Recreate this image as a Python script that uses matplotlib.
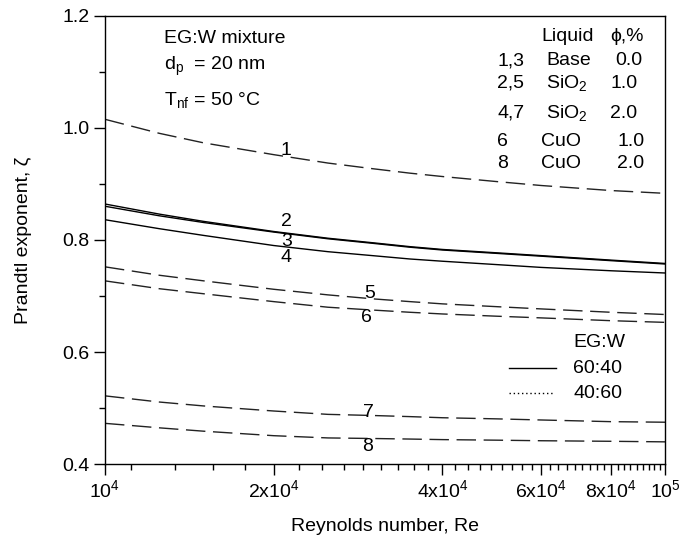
import numpy as np
import matplotlib
matplotlib.use('Agg')
import matplotlib.pyplot as plt
from matplotlib.ticker import FixedLocator, NullFormatter

plt.rcParams['font.family'] = ['Liberation Sans', 'DejaVu Sans']
plt.rcParams['mathtext.default'] = 'regular'

# Reynolds number sample points
re = [1e4, 1.25e4, 1.5e4, 2e4, 2.5e4, 3e4, 3.5e4, 4e4, 5e4, 6e4, 8e4, 1e5]

# Prandtl exponent
zeta_1 = [1.015, 0.990, 0.973, 0.952, 0.937, 0.927, 0.919, 0.913, 0.904, 0.897, 0.888, 0.883]
zeta_2 = [0.864, 0.846, 0.833, 0.815, 0.803, 0.795, 0.788, 0.783, 0.777, 0.772, 0.764, 0.758]
zeta_3 = [0.860, 0.843, 0.831, 0.814, 0.802, 0.794, 0.787, 0.782, 0.776, 0.771, 0.763, 0.757]
zeta_4 = [0.836, 0.820, 0.808, 0.790, 0.779, 0.772, 0.766, 0.762, 0.756, 0.751, 0.745, 0.741]
zeta_5 = [0.752, 0.737, 0.727, 0.712, 0.702, 0.695, 0.690, 0.686, 0.681, 0.677, 0.671, 0.667]
zeta_6 = [0.727, 0.713, 0.704, 0.690, 0.680, 0.675, 0.671, 0.668, 0.664, 0.661, 0.656, 0.653]
zeta_7 = [0.522, 0.511, 0.504, 0.495, 0.489, 0.487, 0.485, 0.483, 0.481, 0.479, 0.476, 0.475]
zeta_8 = [0.473, 0.465, 0.459, 0.451, 0.447, 0.446, 0.445, 0.444, 0.443, 0.442, 0.441, 0.440]

curves = [zeta_1, zeta_2, zeta_3, zeta_4, zeta_5, zeta_6, zeta_7, zeta_8]
dashed = [True, False, False, False, True, True, True, True]

# curve number labels (Re, zeta)
lab_names = ['1', '2', '3', '4', '5', '6', '7', '8']
lab_re = [2.1e4, 2.11e4, 2.11e4, 2.1e4, 2.97e4, 2.93e4, 2.95e4, 2.94e4]
lab_zeta = [0.960, 0.832, 0.798, 0.768, 0.705, 0.661, 0.493, 0.431]

xticks = [1e4, 2e4, 4e4, 6e4, 8e4, 1e5]
xtick_labels = ['$10^4$', '$2x10^4$', '$4x10^4$', '$6x10^4$', '$8x10^4$', '$10^5$']

FS = 14

fig = plt.figure(figsize=(6.8, 5.39), dpi=100)
ax = fig.add_axes([0.1544, 0.1386, 0.824, 0.8326])

for z, d in zip(curves, dashed):
    if d:
        ax.plot(re, z, color='#222222', lw=1.0, ls=(0, (14, 5.5)))
    else:
        ax.plot(re, z, color='black', lw=1.0)

for n, xr, yz in zip(lab_names, lab_re, lab_zeta):
    ax.text(xr, yz, n, fontsize=FS, ha='center', va='center')

ax.set_xscale('log')
ax.set_xlim(1e4, 1e5)
ax.set_ylim(0.4, 1.2)

ax.xaxis.set_major_locator(FixedLocator(xticks))
ax.set_xticklabels(xtick_labels)
minor = [k * 1e5 / 45 for k in range(5, 45) if k % 9 != 0]
ax.xaxis.set_minor_locator(FixedLocator(minor))
ax.xaxis.set_minor_formatter(NullFormatter())

ax.set_yticks([0.4, 0.6, 0.8, 1.0, 1.2])
ax.set_yticklabels(['0.4', '0.6', '0.8', '1.0', '1.2'])
ax.set_yticks([0.5, 0.7, 0.9, 1.1], minor=True)

ax.tick_params(which='major', direction='out', length=8, width=1, labelsize=FS, pad=3)
ax.tick_params(which='minor', direction='out', length=4, width=1)
for s in ax.spines.values():
    s.set_linewidth(1.0)

ax.set_xlabel('Reynolds number, Re', fontsize=FS, labelpad=12)
ax.set_ylabel('Prandtl exponent, ζ', fontsize=FS, labelpad=22)

def fx(px):
    return (px - 105) / (665.3 - 105)

def fy(py):
    return (464.3 - py) / (464.3 - 15.5)

# condition text
ax.text(fx(164), fy(38.3), 'EG:W mixture', transform=ax.transAxes, fontsize=FS, va='center')
ax.text(fx(164), fy(66), '$d_p$  = 20 nm', transform=ax.transAxes, fontsize=FS, va='center')
ax.text(fx(164), fy(100), '$T_{nf}$ = 50 °C', transform=ax.transAxes, fontsize=FS, va='center')

# table of liquids
rows_num = ['1,3', '2,5', '4,7', '6', '8']
rows_liq = ['Base', '$SiO_2$', '$SiO_2$', 'CuO', 'CuO']
rows_phi = ['0.0', '1.0', '2.0', '1.0', '2.0']
rows_y = [60.7, 83, 113, 141.7, 163.3]
liq_x = [546, 546, 546, 541, 541]
phi_x = [615, 610, 610, 617, 617]

ax.text(fx(541), fy(36.7), 'Liquid', transform=ax.transAxes, fontsize=FS, va='center')
ax.text(fx(610), fy(36.7), 'ϕ,%', transform=ax.transAxes, fontsize=FS, va='center')
for num, liq, phi, py, lx, phx in zip(rows_num, rows_liq, rows_phi, rows_y, liq_x, phi_x):
    ax.text(fx(497), fy(py), num, transform=ax.transAxes, fontsize=FS, va='center')
    ax.text(fx(lx), fy(py), liq, transform=ax.transAxes, fontsize=FS, va='center')
    ax.text(fx(phx), fy(py), phi, transform=ax.transAxes, fontsize=FS, va='center')

# line style key
ax.text(fx(573), fy(342.7), 'EG:W', transform=ax.transAxes, fontsize=FS, va='center')
ax.plot([fx(509), fx(556)], [fy(368.3), fy(368.3)], transform=ax.transAxes, color='black', lw=1.0)
ax.text(fx(573), fy(368.3), '60:40', transform=ax.transAxes, fontsize=FS, va='center')
ax.plot([fx(509), fx(553)], [fy(393.3), fy(393.3)], transform=ax.transAxes, color='black', lw=1.0, ls=(0, (1, 2)))
ax.text(fx(573), fy(393.3), '40:60', transform=ax.transAxes, fontsize=FS, va='center')

fig.savefig('out.png', dpi=100)
